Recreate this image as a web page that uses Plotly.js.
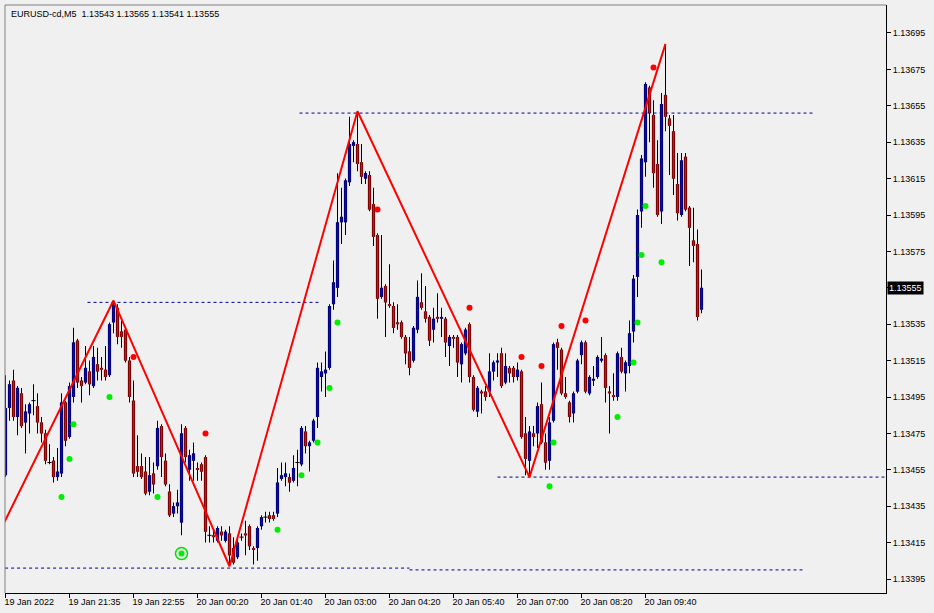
<!DOCTYPE html>
<html>
<head>
<meta charset="utf-8">
<script src="https://cdn.plot.ly/plotly-3.0.1.min.js"></script>
<style>
html,body{margin:0;padding:0;background:#f0f0f0;}
#chart{width:934px;height:613px;}
</style>
</head>
<body>
<div id="chart"></div>
<script>
// ---- DATA (EURUSD-cd, M5) ----
const tickLabels = ["19 Jan 2022","19 Jan 21:35","19 Jan 22:55","20 Jan 00:20","20 Jan 01:40","20 Jan 03:00","20 Jan 04:20","20 Jan 05:40","20 Jan 07:00","20 Jan 08:20","20 Jan 09:40"];
const tickBars = [0,16,32,48,64,80,96,112,128,144,160];
const priceTicks = [1.13395,1.13415,1.13435,1.13455,1.13475,1.13495,1.13515,1.13535,1.13555,1.13575,1.13595,1.13615,1.13635,1.13655,1.13675,1.13695];

const openP = [1.13452,1.13489,1.13504,1.13484,1.13497,1.13481,1.13486,1.13493,1.13490,1.13481,
1.13475,1.13459,1.13460,1.13451,1.13453,1.13492,1.13473,1.13495,1.13526,1.13504,
1.13503,1.13509,1.13501,1.13513,1.13511,1.13510,1.13507,1.13536,1.13544,1.13531,
1.13532,1.13515,1.13493,1.13457,1.13457,1.13454,1.13443,1.13453,1.13457,1.13479,
1.13460,1.13443,1.13431,1.13435,1.13426,1.13478,1.13455,1.13460,1.13456,1.13458,
1.13462,1.13419,1.13419,1.13416,1.13421,1.13416,1.13420,1.13412,1.13407,1.13418,
1.13420,1.13424,1.13412,1.13412,1.13424,1.13429,1.13430,1.13430,1.13431,1.13450,
1.13451,1.13451,1.13449,1.13459,1.13458,1.13476,1.13468,1.13471,1.13484,1.13506,
1.13508,1.13511,1.13546,1.13555,1.13591,1.13591,1.13613,1.13633,1.13634,1.13624,
1.13615,1.13617,1.13601,1.13584,1.13550,1.13556,1.13546,1.13545,1.13536,1.13536,
1.13528,1.13520,1.13515,1.13532,1.13547,1.13542,1.13539,1.13532,1.13539,1.13538,
1.13538,1.13523,1.13528,1.13528,1.13513,1.13519,1.13535,1.13506,1.13487,1.13498,
1.13498,1.13498,1.13509,1.13514,1.13519,1.13503,1.13511,1.13511,1.13506,1.13509,
1.13475,1.13460,1.13475,1.13475,1.13491,1.13470,1.13460,1.13482,1.13525,1.13521,
1.13497,1.13492,1.13486,1.13498,1.13518,1.13525,1.13497,1.13504,1.13506,1.13515,
1.13518,1.13498,1.13496,1.13495,1.13517,1.13508,1.13512,1.13531,1.13561,1.13597,
1.13624,1.13665,1.13650,1.13623,1.13597,1.13661,1.13648,1.13641,1.13612,1.13595,
1.13627,1.13599,1.13581,1.13579,1.13543];
const highP = [1.13507,1.13504,1.13510,1.13501,1.13500,1.13491,1.13492,1.13502,1.13497,1.13484,
1.13477,1.13469,1.13462,1.13467,1.13497,1.13493,1.13503,1.13533,1.13527,1.13506,
1.13523,1.13515,1.13523,1.13522,1.13517,1.13523,1.13536,1.13548,1.13546,1.13537,
1.13533,1.13517,1.13504,1.13474,1.13464,1.13462,1.13462,1.13459,1.13482,1.13480,
1.13464,1.13447,1.13437,1.13444,1.13480,1.13479,1.13466,1.13470,1.13459,1.13459,
1.13463,1.13424,1.13423,1.13424,1.13424,1.13422,1.13424,1.13418,1.13417,1.13420,
1.13427,1.13425,1.13413,1.13424,1.13430,1.13432,1.13432,1.13432,1.13456,1.13459,
1.13459,1.13453,1.13463,1.13466,1.13479,1.13479,1.13471,1.13483,1.13514,1.13514,
1.13520,1.13546,1.13570,1.13618,1.13610,1.13615,1.13649,1.13636,1.13652,1.13634,
1.13619,1.13619,1.13610,1.13585,1.13584,1.13557,1.13568,1.13547,1.13546,1.13537,
1.13529,1.13528,1.13534,1.13559,1.13563,1.13556,1.13540,1.13544,1.13552,1.13544,
1.13539,1.13529,1.13529,1.13529,1.13525,1.13533,1.13536,1.13507,1.13501,1.13499,
1.13501,1.13519,1.13515,1.13519,1.13522,1.13519,1.13512,1.13512,1.13514,1.13510,
1.13484,1.13479,1.13479,1.13492,1.13503,1.13475,1.13484,1.13525,1.13527,1.13522,
1.13506,1.13493,1.13498,1.13516,1.13526,1.13526,1.13507,1.13512,1.13518,1.13528,
1.13519,1.13501,1.13508,1.13520,1.13522,1.13515,1.13537,1.13562,1.13598,1.13628,
1.13668,1.13666,1.13658,1.13636,1.13662,1.13689,1.13650,1.13650,1.13629,1.13629,
1.13629,1.13600,1.13599,1.13587,1.13565];
const lowP = [1.13451,1.13482,1.13482,1.13474,1.13478,1.13464,1.13475,1.13485,1.13475,1.13470,
1.13458,1.13458,1.13448,1.13449,1.13451,1.13468,1.13472,1.13492,1.13500,1.13492,
1.13502,1.13496,1.13500,1.13504,1.13504,1.13504,1.13506,1.13530,1.13524,1.13522,
1.13514,1.13492,1.13451,1.13451,1.13450,1.13441,1.13441,1.13442,1.13455,1.13451,
1.13446,1.13429,1.13429,1.13431,1.13419,1.13459,1.13449,1.13449,1.13449,1.13449,
1.13415,1.13415,1.13415,1.13415,1.13416,1.13415,1.13402,1.13403,1.13406,1.13416,
1.13408,1.13411,1.13403,1.13405,1.13422,1.13426,1.13426,1.13427,1.13429,1.13449,
1.13446,1.13443,1.13448,1.13446,1.13457,1.13464,1.13454,1.13470,1.13478,1.13498,
1.13495,1.13510,1.13543,1.13550,1.13579,1.13584,1.13611,1.13624,1.13619,1.13612,
1.13612,1.13597,1.13578,1.13538,1.13549,1.13528,1.13544,1.13530,1.13532,1.13527,
1.13513,1.13507,1.13514,1.13530,1.13543,1.13536,1.13523,1.13525,1.13536,1.13528,
1.13517,1.13512,1.13522,1.13506,1.13503,1.13518,1.13503,1.13487,1.13484,1.13486,
1.13493,1.13495,1.13504,1.13506,1.13500,1.13502,1.13503,1.13503,1.13504,1.13472,
1.13452,1.13451,1.13468,1.13467,1.13469,1.13455,1.13455,1.13481,1.13510,1.13496,
1.13494,1.13481,1.13481,1.13497,1.13513,1.13497,1.13496,1.13501,1.13505,1.13514,
1.13492,1.13475,1.13493,1.13493,1.13508,1.13498,1.13508,1.13525,1.13550,1.13588,
1.13616,1.13635,1.13610,1.13594,1.13590,1.13641,1.13617,1.13606,1.13592,1.13594,
1.13597,1.13567,1.13569,1.13537,1.13541];
const closeP = [1.13489,1.13502,1.13484,1.13500,1.13479,1.13487,1.13491,1.13493,1.13481,1.13475,
1.13460,1.13459,1.13451,1.13454,1.13492,1.13471,1.13501,1.13525,1.13503,1.13501,
1.13511,1.13502,1.13517,1.13509,1.13510,1.13506,1.13535,1.13546,1.13528,1.13528,
1.13515,1.13495,1.13453,1.13454,1.13451,1.13442,1.13452,1.13447,1.13478,1.13462,
1.13447,1.13430,1.13435,1.13437,1.13475,1.13462,1.13463,1.13464,1.13455,1.13454,
1.13421,1.13419,1.13418,1.13423,1.13419,1.13421,1.13408,1.13404,1.13415,1.13418,
1.13419,1.13413,1.13411,1.13423,1.13429,1.13429,1.13428,1.13428,1.13448,1.13452,
1.13453,1.13448,1.13456,1.13459,1.13478,1.13468,1.13470,1.13482,1.13511,1.13509,
1.13510,1.13545,1.13558,1.13591,1.13594,1.13614,1.13634,1.13635,1.13623,1.13616,
1.13618,1.13598,1.13583,1.13549,1.13555,1.13547,1.13545,1.13533,1.13535,1.13528,
1.13519,1.13511,1.13533,1.13550,1.13544,1.13538,1.13526,1.13538,1.13538,1.13539,
1.13525,1.13528,1.13527,1.13514,1.13524,1.13532,1.13506,1.13488,1.13500,1.13497,
1.13495,1.13509,1.13514,1.13515,1.13501,1.13512,1.13508,1.13506,1.13510,1.13473,
1.13461,1.13476,1.13473,1.13490,1.13470,1.13459,1.13481,1.13524,1.13522,1.13497,
1.13495,1.13484,1.13497,1.13515,1.13525,1.13498,1.13506,1.13505,1.13517,1.13516,
1.13500,1.13497,1.13495,1.13519,1.13509,1.13514,1.13530,1.13560,1.13595,1.13626,
1.13667,1.13651,1.13618,1.13595,1.13656,1.13649,1.13644,1.13615,1.13596,1.13625,
1.13598,1.13588,1.13578,1.13539,1.13555];

// ZigZag vertices (bar index, price)
const zzBar = [-1, 27, 56, 88, 131, 165];
const zzPrice = [1.13423, 1.13548, 1.13402, 1.13652, 1.13451, 1.13689];

// red / green indicator dots
const redBar = [32, 50, 93, 116, 129, 134, 139, 145, 162];
const redPrice = [1.13517, 1.13475, 1.13598, 1.13544, 1.13517, 1.13512, 1.13534, 1.13537, 1.13676];
const greenBar = [14, 16, 17, 26, 38, 68, 74, 78, 81, 83, 136, 137, 153, 157, 158, 159, 160, 164];
const greenPrice = [1.13440, 1.13461, 1.13480, 1.13495, 1.13440, 1.13422, 1.13452, 1.13470, 1.13500, 1.13536, 1.13446, 1.13470, 1.13484, 1.13514, 1.13536, 1.13573, 1.13600, 1.13569];
const ringBar = [44];
const ringPrice = [1.13409];

// dashed level lines
const levelPrice = [1.13547, 1.13651, 1.13451, 1.13401, 1.13400];
const levelFrom  = [20.5, 73.5, 123, -0.1, 101];
const levelTo    = [78.5, 202, 220.2, 101, 200];

const lastBar = {o: 1.13543, h: 1.13565, l: 1.13541, c: 1.13555};

// ---- BUILD ----
const bars = openP.map((_, i) => i);
const FONT = "Tahoma, 'Liberation Sans', Arial, sans-serif";
const FS = 9;
const isDoji = openP.map((o, i) => Math.abs(closeP[i] - o) < 0.000005);
const bodyBase = openP.map((o, i) => Math.min(o, closeP[i]));
const bodySize = openP.map((o, i) => Math.abs(closeP[i] - o));
const bodyColor = openP.map((o, i) => closeP[i] >= o ? '#0000ff' : '#ff0000');

const traces = [];
levelPrice.forEach((p, k) => {
  traces.push({type:'scatter', mode:'lines', x:[levelFrom[k], levelTo[k]], y:[p, p],
    line:{color:'#00008c', width:1, dash:'3px,3px'}, hoverinfo:'skip', showlegend:false});
});
// wicks (thin black bars from low to high)
traces.push({type:'bar', x:bars, base:lowP, y:highP.map((h, i) => h - lowP[i]), width:0.25,
  marker:{color:'#000000', line:{width:0}}, hoverinfo:'skip', showlegend:false});
// body outline (black)
traces.push({type:'bar', x:bars, base:bodyBase, y:bodySize, width:0.8,
  marker:{color:'#000000', line:{width:0}}, hoverinfo:'skip', showlegend:false});
// body colour core
traces.push({type:'bar', x:bars, base:bodyBase, y:bodySize, width:0.5,
  marker:{color:bodyColor, line:{width:0}}, hoverinfo:'skip', showlegend:false});
// doji bodies (open == close) as short horizontal strokes
traces.push({type:'scatter', mode:'markers', x:bars.filter(i => isDoji[i]), y:closeP.filter((c, i) => isDoji[i]),
  marker:{symbol:'line-ew', size:3, line:{color:'#000000', width:1}}, hoverinfo:'skip', showlegend:false});
traces.push({type:'scatter', mode:'lines', x:zzBar, y:zzPrice,
  line:{color:'#ff0000', width:2}, hoverinfo:'skip', showlegend:false});
traces.push({type:'scatter', mode:'markers', x:redBar, y:redPrice,
  marker:{color:'#ff0000', size:6, line:{width:0}}, hoverinfo:'skip', showlegend:false});
traces.push({type:'scatter', mode:'markers', x:greenBar, y:greenPrice,
  marker:{color:'#00ee00', size:6, line:{width:0}}, hoverinfo:'skip', showlegend:false});
traces.push({type:'scatter', mode:'markers', x:ringBar, y:ringPrice,
  marker:{symbol:'circle-open', color:'#00dd00', size:12, line:{width:1.5, color:'#00dd00'}}, hoverinfo:'skip', showlegend:false});
traces.push({type:'scatter', mode:'markers', x:ringBar, y:ringPrice,
  marker:{color:'#00ee00', size:6, line:{width:0}}, hoverinfo:'skip', showlegend:false});

const titleText = 'EURUSD-cd,M5  ' + [lastBar.o, lastBar.h, lastBar.l, lastBar.c].map(v => v.toFixed(5)).join(' ');
// the current price gets its own black label, so its plain tick label is left blank
const priceTickText = priceTicks.map(v => v === lastBar.c ? '' : v.toFixed(5));

const layout = {
  width:934, height:613,
  margin:{l:5, r:48, t:5, b:20, pad:0},
  paper_bgcolor:'#f0f0f0', plot_bgcolor:'#f0f0f0',
  showlegend:false,
  barmode:'overlay',
  font:{family:FONT, size:FS, color:'#000'},
  xaxis:{range:[-0.125, 220.125], tickmode:'array', tickvals:tickBars, ticktext:tickLabels,
    ticks:'outside', ticklen:4, tickcolor:'#000', tickwidth:1,
    ticklabelposition:'outside right', ticklabelshift:-2,
    showline:true, linecolor:'#000', linewidth:1, showgrid:false, zeroline:false,
    fixedrange:true,
    tickfont:{family:FONT, size:FS, color:'#000'}},
  yaxis:{side:'right', range:[1.1338731, 1.1371038], tickmode:'array', tickvals:priceTicks, ticktext:priceTickText,
    ticks:'outside', ticklen:4, tickcolor:'#000', tickwidth:1,
    showline:true, linecolor:'#000', linewidth:1, showgrid:false, zeroline:false, fixedrange:true,
    tickfont:{family:FONT, size:FS, color:'#000'}},
  annotations:[
    {xref:'paper', yref:'paper', x:0, y:1, xanchor:'left', yanchor:'top', xshift:4, yshift:-2,
     text:titleText, showarrow:false, font:{family:FONT, size:FS, color:'#000'}},
    {xref:'paper', yref:'y', x:1, y:lastBar.c, xanchor:'left', yanchor:'middle', xshift:1,
     text:lastBar.c.toFixed(5), showarrow:false, bgcolor:'#000', borderpad:1,
     font:{family:FONT, size:FS, color:'#fff'}}
  ],
  shapes:[
    {type:'line', xref:'paper', yref:'paper', x0:0, x1:1, y0:1, y1:1, line:{color:'#808080', width:1}},
    {type:'line', xref:'paper', yref:'paper', x0:0, x1:0, y0:0, y1:1, line:{color:'#808080', width:1}}
  ]
};

Plotly.newPlot('chart', traces, layout, {staticPlot:true, displayModeBar:false});
</script>
</body>
</html>
